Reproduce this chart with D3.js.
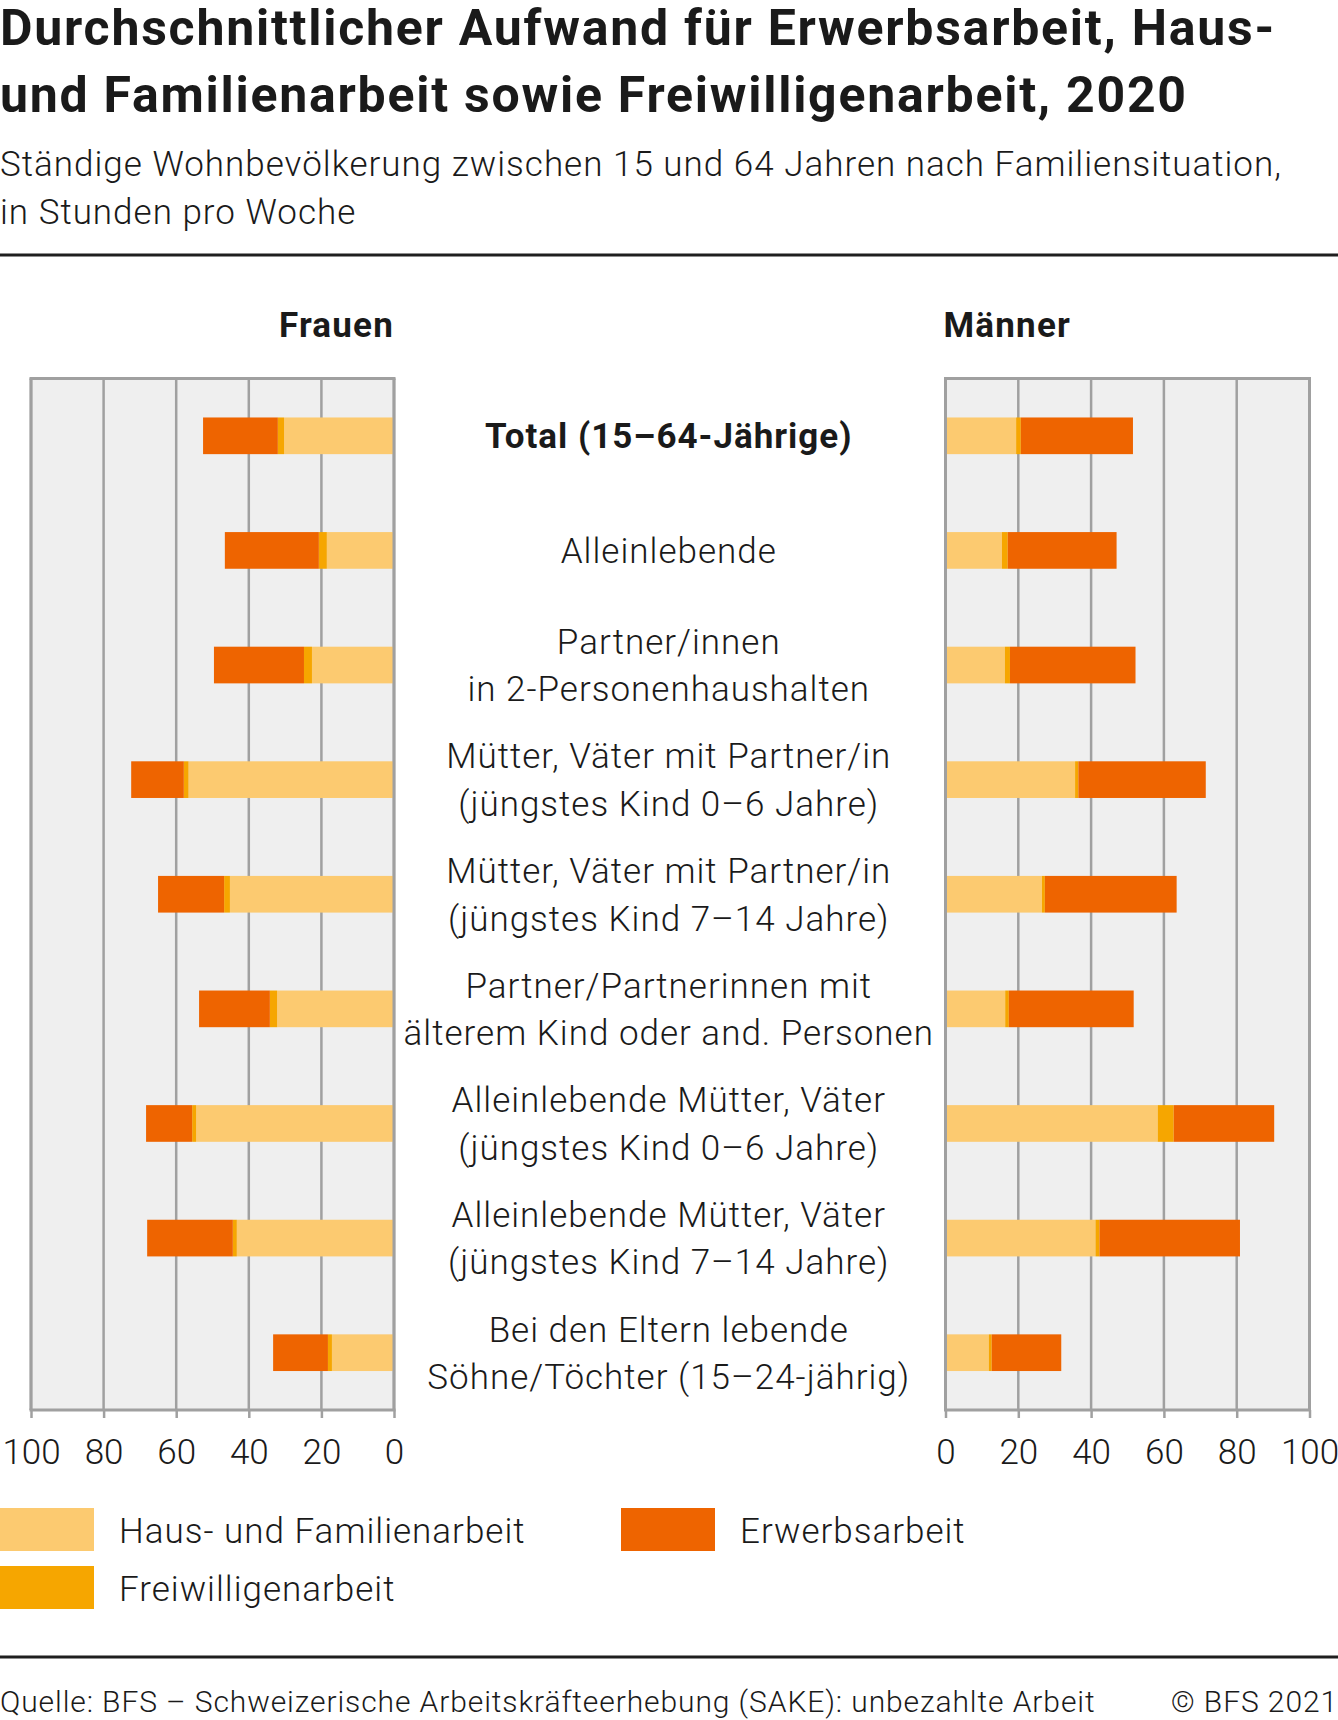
<!DOCTYPE html>
<html>
<head>
<meta charset="utf-8">
<script src="https://cdn.jsdelivr.net/npm/d3@7"></script>
<style>
  html, body { margin: 0; padding: 0; background: #fff; }
  svg { display: block; font-family: Roboto, "Noto Sans", sans-serif; }
</style>
</head>
<body>
<svg id="chart" width="1338" height="1720"></svg>
<script>
// ---------- data ----------
const categories = [
  ["Total (15–64-Jährige)"],
  ["Alleinlebende"],
  ["Partner/innen", "in 2-Personenhaushalten"],
  ["Mütter, Väter mit Partner/in", "(jüngstes Kind 0–6 Jahre)"],
  ["Mütter, Väter mit Partner/in", "(jüngstes Kind 7–14 Jahre)"],
  ["Partner/Partnerinnen mit", "älterem Kind oder and. Personen"],
  ["Alleinlebende Mütter, Väter", "(jüngstes Kind 0–6 Jahre)"],
  ["Alleinlebende Mütter, Väter", "(jüngstes Kind 7–14 Jahre)"],
  ["Bei den Eltern lebende", "Söhne/Töchter (15–24-jährig)"]
];
const frauenHaus   = [30.3, 18.5, 22.6, 56.6, 45.2, 32.2, 54.5, 43.3, 17.1];
const frauenFrei   = [1.7, 2.2, 2.2, 1.3, 1.6, 2.0, 1.1, 1.1, 1.1];
const frauenErwerb = [20.6, 25.9, 24.8, 14.5, 18.2, 19.5, 12.7, 23.6, 15.1];
const maennerHaus   = [19.4, 15.5, 16.3, 35.6, 26.5, 16.4, 58.3, 41.2, 11.9];
const maennerFrei   = [1.3, 1.6, 1.4, 0.9, 0.8, 1.0, 4.4, 1.1, 0.8];
const maennerErwerb = [30.8, 29.9, 34.5, 35.0, 36.2, 34.3, 27.6, 38.6, 19.1];
const seriesNames = ["Haus- und Familienarbeit", "Freiwilligenarbeit", "Erwerbsarbeit"];
const seriesColors = ["#FCCA70", "#F6A600", "#EE6400"];
const tickValues = [0, 20, 40, 60, 80, 100];
const panelTitles = ["Frauen", "Männer"];
const title = ["Durchschnittlicher Aufwand für Erwerbsarbeit, Haus-", "und Familienarbeit sowie Freiwilligenarbeit, 2020"];
const subtitle = ["Ständige Wohnbevölkerung zwischen 15 und 64 Jahren nach Familiensituation,", "in Stunden pro Woche"];
const sourceText = "Quelle: BFS – Schweizerische Arbeitskräfteerhebung (SAKE): unbezahlte Arbeit";
const copyrightText = "© BFS 2021";

// ---------- layout ----------
const svg = d3.select("#chart");
const W = 1338;
const textColor = "#1a1a1a";
const gridColor = "#a0a0a0";
const plotTop = 378.5, plotBottom = 1410;

// Titles
svg.append("g").selectAll("text").data(title).join("text")
  .attr("x", 0).attr("y", (d, i) => 45 + i * 67)
  .attr("font-size", 50).attr("font-weight", 700).attr("letter-spacing", 1.75)
  .attr("fill", textColor)
  .text(d => d);
svg.append("g").selectAll("text").data(subtitle).join("text")
  .attr("x", 0).attr("y", (d, i) => 176 + i * 48)
  .attr("font-size", 35).attr("font-weight", 300).attr("letter-spacing", 1.0)
  .attr("fill", textColor)
  .text(d => d);
svg.append("rect").attr("x", 0).attr("y", 253.5).attr("width", W).attr("height", 3).attr("fill", "#1f1f1f");

// Scales
const y = d3.scaleBand().domain(d3.range(categories.length))
  .range([plotTop, plotBottom]).paddingInner(0.68).paddingOuter(0.34);
const xF = d3.scaleLinear().domain([0, 100]).range([394, 31]);
const xM = d3.scaleLinear().domain([0, 100]).range([945.5, 1309.5]);

function stackData(h, f, e) {
  return categories.map((c, i) => ({ i, Haus: h[i], Frei: f[i], Erwerb: e[i] }));
}
const stack = d3.stack().keys(["Haus", "Frei", "Erwerb"]);

function panel(x, h, f, e) {
  const g = svg.append("g");
  const [x0, x1] = [Math.min(...x.range()), Math.max(...x.range())];
  // background
  g.append("rect").attr("x", x0).attr("y", plotTop).attr("width", x1 - x0)
    .attr("height", plotBottom - plotTop).attr("fill", "#efefef");
  // gridlines
  g.append("g").selectAll("line").data(tickValues).join("line")
    .attr("x1", d => x(d)).attr("x2", d => x(d))
    .attr("y1", plotTop).attr("y2", plotBottom)
    .attr("stroke", gridColor).attr("stroke-width", 2.5);
  // bars
  const series = stack(stackData(h, f, e));
  g.append("g").selectAll("g").data(series).join("g")
    .attr("fill", (d, k) => seriesColors[k])
    .selectAll("rect").data(d => d).join("rect")
      .attr("x", d => Math.min(x(d[0]), x(d[1])))
      .attr("width", d => Math.abs(x(d[1]) - x(d[0])))
      .attr("y", d => y(d.data.i))
      .attr("height", y.bandwidth());
  // top border
  g.append("line").attr("x1", x0 - 1.5).attr("x2", x1 + 1.5)
    .attr("y1", plotTop).attr("y2", plotTop)
    .attr("stroke", gridColor).attr("stroke-width", 3);
  // outer side borders
  g.append("g").selectAll("line").data([0, 100]).join("line")
    .attr("x1", d => x(d)).attr("x2", d => x(d))
    .attr("y1", plotTop).attr("y2", plotBottom)
    .attr("stroke", gridColor).attr("stroke-width", 3);
  // axis
  const axis = d3.axisBottom(x).tickValues(tickValues).tickSize(8).tickPadding(21);
  const ag = g.append("g").attr("transform", `translate(0,${plotBottom})`).call(axis);
  ag.select(".domain").attr("stroke", gridColor).attr("stroke-width", 3)
    .attr("d", `M${x0 - 1.5},0H${x1 + 1.5}`);
  ag.selectAll(".tick line").attr("stroke", gridColor).attr("stroke-width", 2.5);
  ag.selectAll(".tick text").attr("font-size", 35).attr("font-weight", 300)
    .attr("fill", textColor).attr("font-family", "Roboto, 'Noto Sans', sans-serif")
    .attr("dy", "0.71em");
}
panel(xF, frauenHaus, frauenFrei, frauenErwerb);
panel(xM, maennerHaus, maennerFrei, maennerErwerb);

// Panel titles
svg.append("text").attr("x", xF(0)).attr("y", 337).attr("text-anchor", "end")
  .attr("font-size", 35).attr("font-weight", 700).attr("letter-spacing", 1.2)
  .attr("fill", textColor).text(panelTitles[0]);
svg.append("text").attr("x", xM(0) - 2).attr("y", 337).attr("text-anchor", "start")
  .attr("font-size", 35).attr("font-weight", 700).attr("letter-spacing", 1.2)
  .attr("fill", textColor).text(panelTitles[1]);

// Category labels
const cx = (xF(0) + xM(0)) / 2 - 1;
const lab = svg.append("g").selectAll("text").data(categories).join("text")
  .attr("text-anchor", "middle")
  .attr("font-size", 35)
  .attr("letter-spacing", 1.0)
  .attr("font-weight", (d, i) => i === 0 ? 700 : 300)
  .attr("fill", textColor);
lab.each(function(d, i) {
  const t = d3.select(this);
  const c = y(i) + y.bandwidth() / 2;
  const lh = 47.5;
  const first = c - (d.length - 1) * lh / 2;
  t.selectAll("tspan").data(d).join("tspan")
    .attr("x", cx)
    .attr("y", (l, j) => first + j * lh)
    .attr("dy", "0.36em")
    .text(l => l);
});

// Legend
const legendItems = [
  { k: 0, x: 0, y: 1508 },
  { k: 2, x: 621, y: 1508 },
  { k: 1, x: 0, y: 1566 }
];
const lg = svg.append("g").selectAll("g").data(legendItems).join("g");
lg.append("rect").attr("x", d => d.x).attr("y", d => d.y)
  .attr("width", 94).attr("height", 43).attr("fill", d => seriesColors[d.k]);
lg.append("text").attr("x", d => d.x + 119).attr("y", d => d.y + 35)
  .attr("font-size", 35).attr("font-weight", 300).attr("letter-spacing", 1.0)
  .attr("fill", textColor)
  .text(d => seriesNames[d.k]);

// Footer
svg.append("rect").attr("x", 0).attr("y", 1655.5).attr("width", W).attr("height", 3).attr("fill", "#1f1f1f");
svg.append("text").attr("x", 0).attr("y", 1712).attr("font-size", 30).attr("font-weight", 300)
  .attr("letter-spacing", 0.9)
  .attr("fill", textColor).text(sourceText);
svg.append("text").attr("x", W).attr("y", 1712).attr("text-anchor", "end").attr("font-size", 30)
  .attr("font-weight", 300).attr("letter-spacing", 0.9)
  .attr("fill", textColor).text(copyrightText);
</script>
</body>
</html>
